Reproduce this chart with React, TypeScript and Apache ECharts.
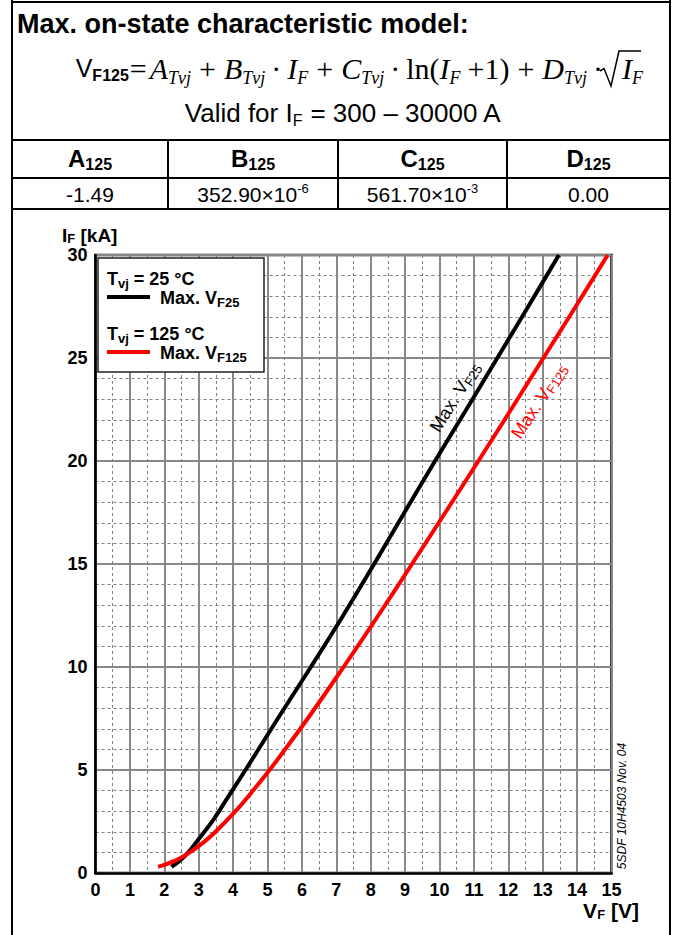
import React, { useEffect, useRef } from 'react';
import * as echarts from 'echarts';

const SANS = "'Liberation Sans', Arial, Helvetica, sans-serif";
const SERIF = "'Liberation Serif', 'Times New Roman', serif";
const NB = '\u00A0';

// ---- data ----
// Tvj = 25 °C, Max. VF25  (V in volts, I in kA)
const vf25Volts = [2.21, 2.45, 2.70, 3.00, 3.42, 3.80, 4.36, 5.30, 6.26, 7.20, 8.10, 8.98, 9.87, 10.78, 11.68, 12.58, 13.47];
const vf25Amps = [0.3, 0.6, 1.0, 1.65, 2.57, 3.55, 5.0, 7.5, 10.0, 12.5, 15.0, 17.5, 20.0, 22.5, 25.0, 27.5, 30.0];
// Tvj = 125 °C, Max. VF125
const vf125Volts = [1.82, 2.32, 2.74, 3.15, 3.49, 4.07, 4.58, 5.06, 5.51, 6.17, 7.21, 8.22, 9.20, 10.17, 11.13, 12.08, 13.02, 13.96, 14.89];
const vf125Amps = [0.3, 0.6, 1.0, 1.5, 2.0, 3.0, 4.0, 5.0, 6.0, 7.5, 10.0, 12.5, 15.0, 17.5, 20.0, 22.5, 25.0, 27.5, 30.0];

// coefficient table
const coefNames = ['A', 'B', 'C', 'D'];
const coefSub = '125';
const coefMantissa = ['-1.49', '352.90×10', '561.70×10', '0.00'];
const coefExponent = ['', '-6', '-3', ''];

// axes
const xMin = 0, xMax = 15, xStep = 1;
const yMin = 0, yMax = 30, yStep = 5;

const zip = (a: number[], b: number[]) => a.map((v, i) => [v, b[i]]);

function buildOption() {
  const g: any[] = [];
  const line = (x1: number, y1: number, x2: number, y2: number, w = 2, c = '#000') => ({
    type: 'line', silent: true, shape: { x1, y1, x2, y2 }, style: { stroke: c, lineWidth: w },
  });

  // outer frame & table
  const L = 12, R = 670;
  g.push(line(L, 0, L, 935));
  g.push(line(R, 0, R, 935));
  g.push(line(L, 2, R, 2));
  g.push(line(L, 140, R, 140));
  g.push(line(L, 178, R, 178));
  g.push(line(L, 209, R, 209));
  const colX = [L, 168, 338, 507, R];
  [168, 338, 507].forEach((x) => g.push(line(x, 140, x, 209)));

  // title
  g.push({
    type: 'text', x: 17, y: 24,
    style: { text: 'Max. on-state characteristic model:', fontFamily: SANS, fontWeight: 'bold', fontSize: 27, fill: '#000', align: 'left', verticalAlign: 'middle' },
  });

  // formula
  const fr = {
    sv: { fontFamily: SANS, fontSize: 25, lineHeight: 38, fill: '#000' },
    sb: { fontFamily: SANS, fontSize: 16, fontWeight: 'bold', verticalAlign: 'bottom', padding: [0, 0, 4, 0], fill: '#000' },
    eq: { fontFamily: SERIF, fontSize: 30, padding: [0, 3, 0, 1], fill: '#000' },
    mi: { fontFamily: SERIF, fontSize: 30, fontStyle: 'italic', fill: '#000' },
    ms: { fontFamily: SERIF, fontSize: 18, fontStyle: 'italic', verticalAlign: 'bottom', fill: '#000' },
    pl: { fontFamily: SERIF, fontSize: 30, padding: [0, 8, 0, 8], fill: '#000' },
    pl2: { fontFamily: SERIF, fontSize: 30, padding: [0, 0, 0, 7], fill: '#000' },
    dt: { fontFamily: SERIF, fontSize: 30, padding: [0, 6, 0, 6], fill: '#000' },
    rm: { fontFamily: SERIF, fontSize: 30, fill: '#000' },
  };
  g.push({
    type: 'text', x: 609, y: 68,
    style: {
      text: '{sv|V}{sb|F125}{eq|=}{mi|A}{ms|Tvj}{pl|+}{mi|B}{ms|Tvj}{dt|·}{mi|I}{ms|F}{pl|+}{mi|C}{ms|Tvj}{dt|·}{rm|ln(}{mi|I}{ms|F}{pl2|+}{rm|1)}{pl|+}{mi|D}{ms|Tvj}{dt|·}',
      rich: fr, align: 'right', verticalAlign: 'middle',
    },
  });
  g.push({
    type: 'polyline', silent: true,
    shape: { points: [[600, 71], [604, 68.5], [611, 86], [619, 51], [641, 51]] },
    style: { stroke: '#000', lineWidth: 1.5, fill: 'none' },
  });
  g.push({
    type: 'text', x: 622, y: 68,
    style: { text: '{sv|}{mi|I}{ms|F}', rich: fr, align: 'left', verticalAlign: 'middle' },
  });

  // valid range
  g.push({
    type: 'text', x: 343, y: 113,
    style: {
      text: `{t|Valid for I}{ts|F}{t|${NB}= 300 – 30000 A}`,
      rich: {
        t: { fontFamily: SANS, fontSize: 26, lineHeight: 30, fill: '#000' },
        ts: { fontFamily: SANS, fontSize: 16, verticalAlign: 'bottom', fill: '#000' },
      },
      align: 'center', verticalAlign: 'middle',
    },
  });

  // table cells
  coefNames.forEach((n, i) => {
    const cx = (colX[i] + colX[i + 1]) / 2;
    g.push({
      type: 'text', x: cx, y: 158,
      style: {
        text: `{h|${n}}{hs|${coefSub}}`,
        rich: {
          h: { fontFamily: SANS, fontSize: 24, fontWeight: 'bold', lineHeight: 28, fill: '#000' },
          hs: { fontFamily: SANS, fontSize: 16, fontWeight: 'bold', verticalAlign: 'bottom', fill: '#000' },
        },
        align: 'center', verticalAlign: 'middle',
      },
    });
    const exp = coefExponent[i];
    g.push({
      type: 'text', x: cx, y: 194,
      style: {
        text: exp ? `{v|${coefMantissa[i]}}{vs|${exp}}` : `{v|${coefMantissa[i]}}`,
        rich: {
          v: { fontFamily: SANS, fontSize: 21, lineHeight: 24, fill: '#000' },
          vs: { fontFamily: SANS, fontSize: 13, verticalAlign: 'top', fill: '#000' },
        },
        align: 'center', verticalAlign: 'middle',
      },
    });
  });

  // axis names
  const bRich = (s: number) => ({
    b: { fontFamily: SANS, fontSize: s, fontWeight: 'bold', lineHeight: s + 1, fill: '#000' },
    bs: { fontFamily: SANS, fontSize: 13, fontWeight: 'bold', verticalAlign: 'bottom', fill: '#000' },
  });
  g.push({ type: 'text', x: 62, y: 235, style: { text: `{b|I}{bs|F}{b|${NB}[kA]}`, rich: bRich(19), align: 'left', verticalAlign: 'middle' } });
  g.push({ type: 'text', x: 611, y: 910, style: { text: `{b|V}{bs|F}{b|${NB}[V]}`, rich: bRich(21), align: 'center', verticalAlign: 'middle' } });

  // legend
  const lRich = {
    b: { fontFamily: SANS, fontSize: 18, fontWeight: 'bold', lineHeight: 22, fill: '#000' },
    bs: { fontFamily: SANS, fontSize: 13, fontWeight: 'bold', verticalAlign: 'bottom', fill: '#000' },
  };
  g.push({ type: 'rect', z: 100, shape: { x: 98, y: 258, width: 166, height: 114 }, style: { fill: '#fff', stroke: '#222', lineWidth: 1.5 } });
  g.push({ type: 'text', z: 101, x: 107, y: 279, style: { text: `{b|T}{bs|vj}{b|${NB}= 25 °C}`, rich: lRich, align: 'left', verticalAlign: 'middle' } });
  g.push({ type: 'line', z: 101, shape: { x1: 107, y1: 297, x2: 150, y2: 297 }, style: { stroke: '#000', lineWidth: 4 } });
  g.push({ type: 'text', z: 101, x: 160, y: 298, style: { text: `{b|Max. V}{bs|F25}`, rich: lRich, align: 'left', verticalAlign: 'middle' } });
  g.push({ type: 'text', z: 101, x: 107, y: 334, style: { text: `{b|T}{bs|vj}{b|${NB}= 125 °C}`, rich: lRich, align: 'left', verticalAlign: 'middle' } });
  g.push({ type: 'line', z: 101, shape: { x1: 107, y1: 352, x2: 150, y2: 352 }, style: { stroke: '#ff0000', lineWidth: 4 } });
  g.push({ type: 'text', z: 101, x: 160, y: 353, style: { text: `{b|Max. V}{bs|F125}`, rich: lRich, align: 'left', verticalAlign: 'middle' } });

  // curve labels
  const cRich = (c: string) => ({
    m: { fontFamily: SANS, fontSize: 18, lineHeight: 21, fill: c },
    ms: { fontFamily: SANS, fontSize: 13, verticalAlign: 'bottom', fill: c },
  });
  g.push({ type: 'text', z: 50, x: 455, y: 397, rotation: 1.01, style: { text: '{m|Max. V}{ms|F25}', rich: cRich('#000'), align: 'center', verticalAlign: 'middle' } });
  g.push({ type: 'text', z: 50, x: 539, y: 401, rotation: 0.99, style: { text: '{m|Max. V}{ms|F125}', rich: cRich('#ff0000'), align: 'center', verticalAlign: 'middle' } });

  // document number
  g.push({
    type: 'text', x: 622, y: 806, rotation: Math.PI / 2,
    style: { text: '5SDF 10H4503 Nov. 04', fontFamily: SANS, fontStyle: 'italic', fontSize: 12, fill: '#000', align: 'center', verticalAlign: 'middle' },
  });

  const axisCommon = {
    type: 'value',
    axisTick: { show: false },
    axisLine: { show: true, onZero: false, lineStyle: { color: '#000', width: 2.5 } },
    axisLabel: { color: '#000', fontFamily: SANS, fontWeight: 'bold', fontSize: 18, margin: 8 },
    splitLine: { show: true, lineStyle: { color: '#888', width: 2 } },
    minorSplitLine: { show: true, lineStyle: { color: '#808080', width: 1, type: [3, 3] } },
  };

  return {
    animation: false,
    backgroundColor: '#fff',
    grid: { left: 95.5, top: 255, width: 516, height: 618, show: true, borderColor: '#000', borderWidth: 2.5, backgroundColor: 'transparent' },
    xAxis: { ...axisCommon, min: xMin, max: xMax, interval: xStep, minorTick: { show: false, splitNumber: 2 } },
    yAxis: { ...axisCommon, min: yMin, max: yMax, interval: yStep, minorTick: { show: false, splitNumber: 5 } },
    series: [
      {
        name: 'Max. VF25', type: 'line', data: zip(vf25Volts, vf25Amps), showSymbol: false, smooth: 0.35,
        lineStyle: { color: '#000', width: 4, cap: 'butt' }, z: 5, silent: true,
      },
      {
        name: 'Max. VF125', type: 'line', data: zip(vf125Volts, vf125Amps), showSymbol: false, smooth: 0.35,
        lineStyle: { color: '#ff0000', width: 4, cap: 'butt' }, z: 5, silent: true,
      },
    ],
    graphic: g,
  };
}

export default function App() {
  const ref = useRef<HTMLDivElement>(null);
  useEffect(() => {
    const chart = echarts.init(ref.current!, undefined, { renderer: 'svg' });
    chart.setOption(buildOption() as any);
    return () => chart.dispose();
  }, []);
  return <div ref={ref} style={{ position: 'absolute', left: 0, top: 0, width: 674, height: 935, background: '#fff' }} />;
}
